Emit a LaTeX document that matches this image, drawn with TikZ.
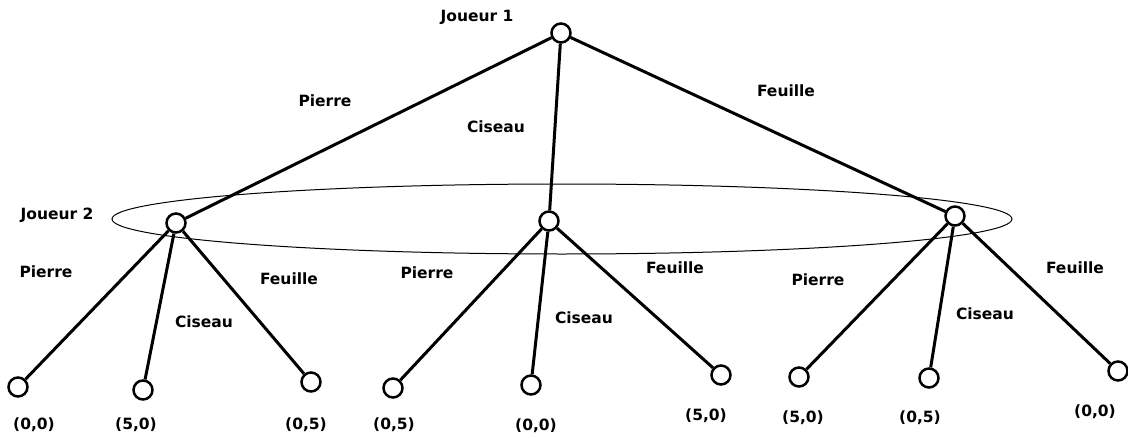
\documentclass[tikz,border=0pt]{standalone}
\usepackage{fontspec}
\setmainfont{DejaVu Sans}
\begin{document}
\begin{tikzpicture}[x=1pt,y=-1pt,
  gnode/.style={circle,draw,line width=2.5pt,minimum size=19pt,inner sep=0pt,fill=white},
  edge/.style={line width=3pt},
  lbl/.style={font=\bfseries\fontsize{15.5}{17}\selectfont,inner sep=0pt}]
\useasboundingbox (0,0) rectangle (1128,439);
\draw[line width=1pt] (562,219) ellipse [x radius=450, y radius=35];
% nodes
\node[gnode] (r) at (561,33) {};
\node[gnode] (a) at (176,223) {};
\node[gnode] (b) at (549,221) {};
\node[gnode] (c) at (955,216) {};
\node[gnode] (a1) at (18,387) {};
\node[gnode] (a2) at (143,390) {};
\node[gnode] (a3) at (311,382) {};
\node[gnode] (b1) at (393,388) {};
\node[gnode] (b2) at (531,385) {};
\node[gnode] (b3) at (721,375) {};
\node[gnode] (c1) at (799,377) {};
\node[gnode] (c2) at (929,378) {};
\node[gnode] (c3) at (1118,371) {};
% edges
\foreach \u/\v in {r/a,r/b,r/c,a/a1,a/a2,a/a3,b/b1,b/b2,b/b3,c/c1,c/c2,c/c3}
  \draw[edge] (\u) -- (\v);
% labels
\node[lbl] (j1) at (477,17) {Joueur 1};
\node[lbl] (j2) at (57,215) {Joueur 2};
\node[lbl] (l1) at (325,101) {Pierre};
\node[lbl] (l2) at (496,127) {Ciseau};
\node[lbl] (l3) at (786,91) {Feuille};
\node[lbl] (l4) at (46,272) {Pierre};
\node[lbl] (l5) at (204,322) {Ciseau};
\node[lbl] (l6) at (289,279) {Feuille};
\node[lbl] (l7) at (427,273) {Pierre};
\node[lbl] (l8) at (584,318) {Ciseau};
\node[lbl] (l9) at (675,268) {Feuille};
\node[lbl] (l10) at (818,280) {Pierre};
\node[lbl] (l11) at (985,314) {Ciseau};
\node[lbl] (l12) at (1075,268) {Feuille};
\node[lbl] (p1) at (34,425) {(0,0)};
\node[lbl] (p2) at (136,425) {(5,0)};
\node[lbl] (p3) at (306,425) {(0,5)};
\node[lbl] (p4) at (394,425) {(0,5)};
\node[lbl] (p5) at (536,426) {(0,0)};
\node[lbl] (p6) at (706,416) {(5,0)};
\node[lbl] (p7) at (803,418) {(5,0)};
\node[lbl] (p8) at (920,418) {(0,5)};
\node[lbl] (p9) at (1095,412) {(0,0)};
\end{tikzpicture}
\end{document}
